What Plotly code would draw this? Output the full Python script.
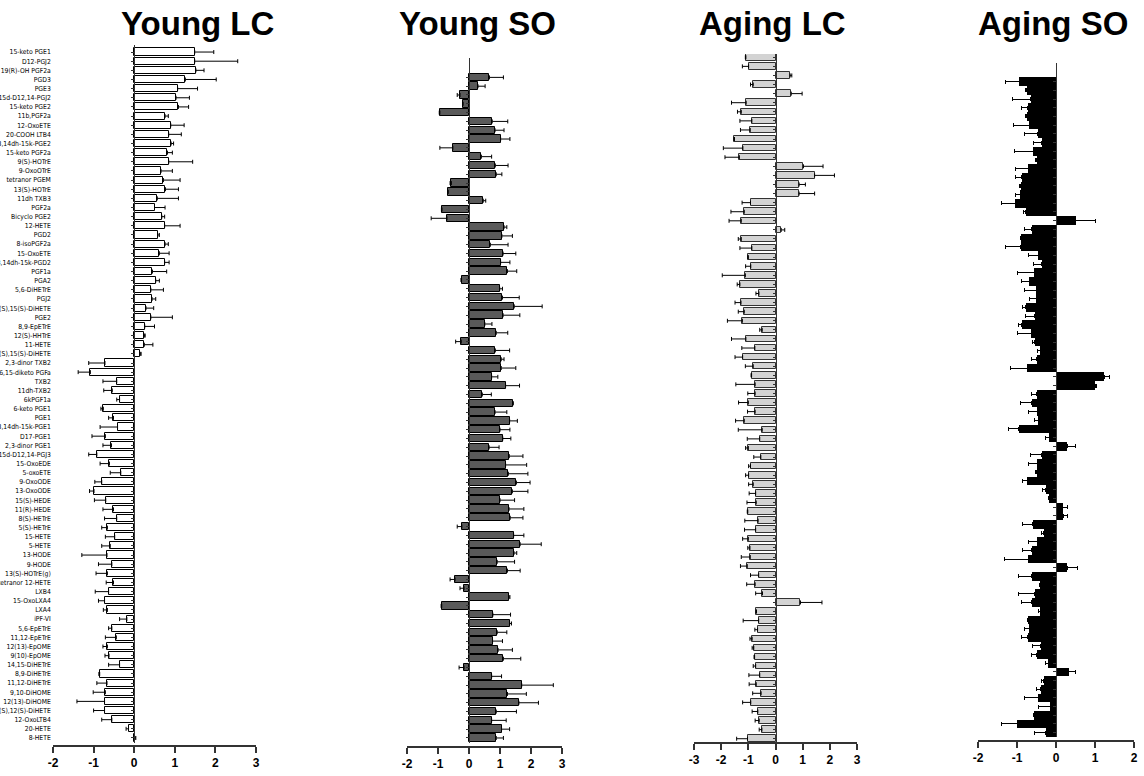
import plotly.graph_objects as go

labels = ["15-keto PGE1", "D12-PGJ2", "19(R)-OH PGF2a", "PGD3", "PGE3", "15d-D12,14-PGJ2",
          "15-keto PGE2", "11b,PGF2a", "12-OxoETE", "20-COOH LTB4", "13,14dh-15k-PGE2",
          "15-keto PGF2a", "9(S)-HOTrE", "9-OxoOTrE", "tetranor PGEM", "13(S)-HOTrE",
          "11dh TXB3", "PGF2a", "Bicyclo PGE2", "12-HETE", "PGD2", "8-isoPGF2a", "15-OxoETE",
          "13,14dh-15k-PGD2", "PGF1a", "PGA2", "5,6-DiHETrE", "PGJ2", "5(S),15(S)-DiHETE",
          "PGE2", "8,9-EpETrE", "12(S)-HHTrE", "11-HETE", "8(S),15(S)-DiHETE", "2,3-dinor TXB2",
          "6,15-diketo PGFa", "TXB2", "11dh-TXB2", "6kPGF1a", "6-keto PGE1", "PGE1",
          "13,14dh-15k-PGE1", "D17-PGE1", "2,3-dinor PGE1", "15d-D12,14-PGJ3", "15-OxoEDE",
          "5-oxoETE", "9-OxoODE", "13-OxoODE", "15(S)-HEDE", "11(R)-HEDE", "8(S)-HETrE",
          "5(S)-HETrE", "15-HETE", "5-HETE", "13-HODE", "9-HODE", "13(S)-HOTrE(g)",
          "tetranor 12-HETE", "LXB4", "15-OxoLXA4", "LXA4", "iPF-VI", "5,6-EpETrE",
          "11,12-EpETrE", "12(13)-EpOME", "9(10)-EpOME", "14,15-DiHETrE", "8,9-DiHETrE",
          "11,12-DiHETrE", "9,10-DiHOME", "12(13)-DiHOME", "5(S),12(S)-DiHETE", "12-OxoLTB4",
          "20-HETE", "8-HETE"]

young_lc = [1.49, 1.49, 1.52, 1.26, 1.07, 1.03, 1.09, 0.76, 0.90, 0.85,
            0.91, 0.82, 0.85, 0.66, 0.72, 0.77, 0.57, 0.50, 0.68, 0.75,
            0.58, 0.76, 0.62, 0.75, 0.45, 0.53, 0.41, 0.44, 0.29, 0.41,
            0.26, 0.25, 0.25, 0.15, -0.72, -1.08, -0.43, -0.54, -0.36, -0.76,
            -0.51, -0.41, -0.71, -0.56, -0.92, -0.61, -0.33, -0.80, -0.99, -0.70,
            -0.51, -0.43, -0.66, -0.48, -0.59, -0.67, -0.55, -0.66, -0.51, -0.63,
            -0.73, -0.66, -0.18, -0.55, -0.44, -0.66, -0.62, -0.36, -0.85, -0.67,
            -0.71, -0.73, -0.73, -0.55, -0.14, 0.02]
young_lc_err = [0.47, 1.06, 0.20, 0.76, 0.49, 0.33, 0.25, 0.08, 0.33, 0.31,
                0.06, 0.12, 0.59, 0.28, 0.41, 0.32, 0.52, 0.26, 0.07, 0.38,
                0.04, 0.08, 0.24, 0.11, 0.35, 0.09, 0.31, 0.09, 0.19, 0.53,
                0.24, 0.02, 0.21, 0.02, 0.40, 0.30, 0.34, 0.21, 0.07, 0.06,
                0.12, 0.43, 0.33, 0.21, 0.20, 0.23, 0.26, 0.17, 0.11, 0.28,
                0.26, 0.30, 0.14, 0.23, 0.21, 0.62, 0.33, 0.28, 0.18, 0.33,
                0.15, 0.10, 0.18, 0.08, 0.27, 0.11, 0.10, 0.27, 0.02, 0.25,
                0.30, 0.68, 0.27, 0.25, 0.06, 0.02]

young_so = [0.66, 0.29, -0.29, -0.19, -0.94, 0.75, 0.84, 1.02, -0.52, 0.40,
            0.85, 0.88, -0.57, -0.67, 0.46, -0.87, -0.71, 1.13, 1.06, 0.69,
            1.10, 1.02, 1.24, -0.24, 0.99, 1.08, 1.46, 1.10, 0.51, 0.88,
            -0.25, 0.85, 1.04, 1.04, 0.73, 1.18, 0.43, 1.41,
            0.84, 1.31, 1.00, 1.09, 0.65, 1.30, 1.18, 1.27, 1.53, 1.40,
            1.00, 1.29, 1.33, -0.23, 1.44, 1.65, 1.45, 0.91, 1.24, -0.45,
            -0.16, 1.29, -0.88, 0.77, 1.31, 0.91, 0.76, 0.94, 1.11, -0.16,
            0.73, 1.70, 1.24, 1.61, 0.88, 0.73, 1.05, 0.88]
young_so_err = [0.45, 0.23, 0.09, 0.02, 0.02, 0.50, 0.29, 0.30, 0.42, 0.33,
                0.41, 0.18, 0.04, 0.02, 0.08, 0.02, 0.51, 0.09, 0.34, 0.57,
                0.41, 0.30, 0.30, 0.02, 0.09, 0.54, 0.90, 0.54, 0.23, 0.37,
                0.18, 0.46, 0.09, 0.47, 0.20, 0.45, 0.29, 0.02,
                0.38, 0.25, 0.32, 0.26, 0.32, 0.44, 0.68, 0.63, 0.44, 0.50,
                0.47, 0.48, 0.41, 0.15, 0.33, 0.68, 0.09, 0.56, 0.41, 0.16,
                0.13, 0.03, 0.02, 0.57, 0.06, 0.31, 0.32, 0.46, 0.56, 0.16,
                0.32, 1.02, 0.61, 0.63, 0.65, 0.47, 0.26, 0.23]

aging_lc = [-1.09, -0.99, 0.54, -0.82, 0.58, -1.08, -1.26, -0.87, -0.93, -1.51,
            -1.20, -1.33, 1.03, 1.44, 0.87, 0.87, -0.92, -1.15, -1.26, 0.21,
            -1.26, -0.87, -1.00, -0.91, -1.11, -1.31, -0.61, -1.27, -1.15, -1.22,
            -0.49, -1.09, -0.76, -1.21, -0.82, -0.88, -0.75, -0.75, -1.00,
            -0.75, -1.15, -0.49, -0.58, -1.00, -0.54, -0.92, -0.99, -0.82, -0.73,
            -0.71, -1.02, -0.64, -0.73, -1.00, -0.94, -0.93, -1.04, -0.62, -0.75,
            -0.48, 0.92, -0.70, -0.62, -0.66, -0.86, -0.80, -0.77, -0.73, -0.58,
            -0.71, -0.53, -0.91, -0.65, -0.60, -0.50, -1.03]
aging_lc_err = [0.02, 0.23, 0.06, 0.10, 0.40, 0.54, 0.14, 0.44, 0.36, 0.02,
                0.72, 0.53, 0.72, 0.73, 0.23, 0.57, 0.31, 0.49, 0.45, 0.13,
                0.11, 0.44, 0.02, 0.19, 0.85, 0.10, 0.11, 0.22, 0.22, 0.55,
                0.09, 0.53, 0.48, 0.28, 0.29, 0.02, 0.71, 0.27, 0.36,
                0.28, 0.32, 0.88, 0.46, 0.10, 0.26, 0.07, 0.11, 0.17, 0.24,
                0.34, 0.02, 0.49, 0.41, 0.21, 0.08, 0.33, 0.25, 0.30, 0.31,
                0.25, 0.79, 0.02, 0.57, 0.10, 0.08, 0.06, 0.02, 0.09, 0.40,
                0.26, 0.31, 0.30, 0.21, 0.15, 0.10, 0.40]

aging_so = [-0.94, -0.75, -0.65, -0.73, -0.75, -0.68, -0.47, -0.37, -0.58, -0.50,
            -0.71, -0.88, -0.91, -0.92, -1.05, -0.78, 0.50, -0.62, -0.90, -0.91,
            -0.45, -0.37, -0.56, -0.69, -0.51, -0.51, -0.78, -0.54, -0.88, -0.64,
            -0.54, -0.41, -0.50, -0.74, 1.24, 1.00, -0.50, -0.62, -0.48, -0.45,
            -0.95, -0.17, 0.29, -0.37, -0.48, -0.50, -0.74, -0.26, -0.17, 0.17,
            0.19, -0.60, -0.32, -0.48, -0.62, -0.71, 0.29, -0.62, -0.41, -0.54,
            -0.62, -0.41, -0.71, -0.68, -0.73, -0.39, -0.50, -0.20, 0.33, -0.32,
            -0.39, -0.45, -0.15, -0.56, -0.99, -0.26]
aging_so_err = [0.35, 0.03, 0.46, 0.15, 0.02, 0.41, 0.34, 0.21, 0.49, 0.02,
                0.34, 0.15, 0.02, 0.11, 0.34, 0.06, 0.50, 0.19, 0.02, 0.38,
                0.26, 0.21, 0.42, 0.19, 0.30, 0.16, 0.07, 0.25, 0.07, 0.34,
                0.06, 0.07, 0.12, 0.42, 0.12, 0.04, 0.12, 0.30, 0.23, 0.09,
                0.27, 0.11, 0.22, 0.28, 0.23, 0.02, 0.11, 0.08, 0.03, 0.12,
                0.10, 0.25, 0.05, 0.23, 0.23, 0.60, 0.26, 0.35, 0.02, 0.43,
                0.26, 0.04, 0.02, 0.13, 0.15, 0.21, 0.12, 0.08, 0.16, 0.05,
                0.11, 0.37, 0.30, 0.02, 0.42, 0.28]

titles = ["Young LC", "Young SO", "Aging LC", "Aging SO"]
x_ticks_a = [-2, -1, 0, 1, 2, 3]
x_ticks_b = [-3, -2, -1, 0, 1, 2, 3]
x_ticks_c = [-2, -1, 0, 1, 2]

W, H = 1144, 776
def fx(px):
    return px / W
def fy(py):
    return 1 - py / H

LABEL_FONT = "DejaVu Sans Condensed, Liberation Sans Narrow, Liberation Sans, Arial, sans-serif"
BOLD = "Liberation Sans, Arial, sans-serif"

panels = [
    dict(v=young_lc, e=young_lc_err, fill="white", line="black", lw=1, bw=0.78,
         xpx=(53, 256), xr=(-2, 3), tv=x_ticks_a, ypx=(45, 743), yr=(75.55, -0.77), axy=746, tx=197),
    dict(v=young_so, e=young_so_err, fill="#5a5a5a", line="black", lw=1, bw=0.84,
         xpx=(407, 562), xr=(-2, 3), tv=x_ticks_a, ypx=(58, 743), yr=(75.57, -2.2), axy=747, tx=477),
    dict(v=aging_lc, e=aging_lc_err, fill="#d3d3d3", line="#333333", lw=1, bw=0.72,
         xpx=(694, 857), xr=(-3, 3), tv=x_ticks_b, ypx=(54, 743), yr=(75.47, -0.36), axy=743, tx=772),
    dict(v=aging_so, e=aging_so_err, fill="black", line="black", lw=0, bw=1.0,
         xpx=(978, 1134), xr=(-2, 2), tv=x_ticks_c, ypx=(63, 737), yr=(75.5, -2.16), axy=741, tx=1053),
]

fig = go.Figure()
layout = dict(width=W, height=H, margin=dict(l=0, r=0, t=0, b=0, autoexpand=False),
              paper_bgcolor="white", plot_bgcolor="white", showlegend=False,
              bargap=0, annotations=[])

for i, p in enumerate(panels):
    n = "" if i == 0 else str(i + 1)
    plus = [e if v >= 0 else 0 for v, e in zip(p["v"], p["e"])]
    minus = [e if v < 0 else 0 for v, e in zip(p["v"], p["e"])]
    fig.add_trace(go.Bar(
        x=p["v"], y=labels, orientation="h", width=p["bw"],
        xaxis="x" + n, yaxis="y" + n,
        marker=dict(color=p["fill"], line=dict(color=p["line"], width=p["lw"])),
        error_x=dict(type="data", symmetric=False, array=plus, arrayminus=minus,
                     color="black", thickness=1, width=2),
    ))
    x0, x1 = p["xpx"]
    zero_px = x0 + (0 - p["xr"][0]) / (p["xr"][1] - p["xr"][0]) * (x1 - x0)
    layout["xaxis" + n] = dict(
        domain=[fx(x0), fx(x1)], range=list(p["xr"]), anchor="free",
        position=fy(p["axy"]), showgrid=False, zeroline=False, automargin=False,
        showline=True, linecolor="#333333", linewidth=1.5,
        ticks="outside", ticklen=6, tickwidth=1.5, tickcolor="#333333",
        tickmode="array", tickvals=p["tv"], ticktext=[str(t) for t in p["tv"]],
        tickfont=dict(family=BOLD, size=12, color="black", weight="bold"),
    )
    yt, yb = p["ypx"]
    layout["yaxis" + n] = dict(
        domain=[fy(yb), fy(yt)], range=list(p["yr"]), type="category",
        categoryorder="array", categoryarray=labels, anchor="free",
        position=fx(zero_px), showgrid=False, zeroline=False, automargin=False,
        showline=True, linecolor="#333333", linewidth=1,
        ticks="outside", ticklen=3, tickwidth=1, tickcolor="#333333",
        tickmode="linear", tick0=0, dtick=1,
        showticklabels=(i == 0),
        tickfont=dict(family=LABEL_FONT, size=6.8, color="black"),
        ticklabelstandoff=int(zero_px - 3 - 52) if i == 0 else 0,
    )
    layout["annotations"].append(dict(
        text=titles[i], xref="paper", yref="paper", x=fx(p["tx"]), y=fy(23),
        xanchor="center", yanchor="middle", showarrow=False,
        font=dict(family=BOLD, size=33, color="black", weight="bold"),
    ))

fig.update_layout(**layout)
fig.write_html("out.html", config={"displayModeBar": False},
               post_script="document.body.style.margin='0px';document.body.style.overflow='hidden';")
